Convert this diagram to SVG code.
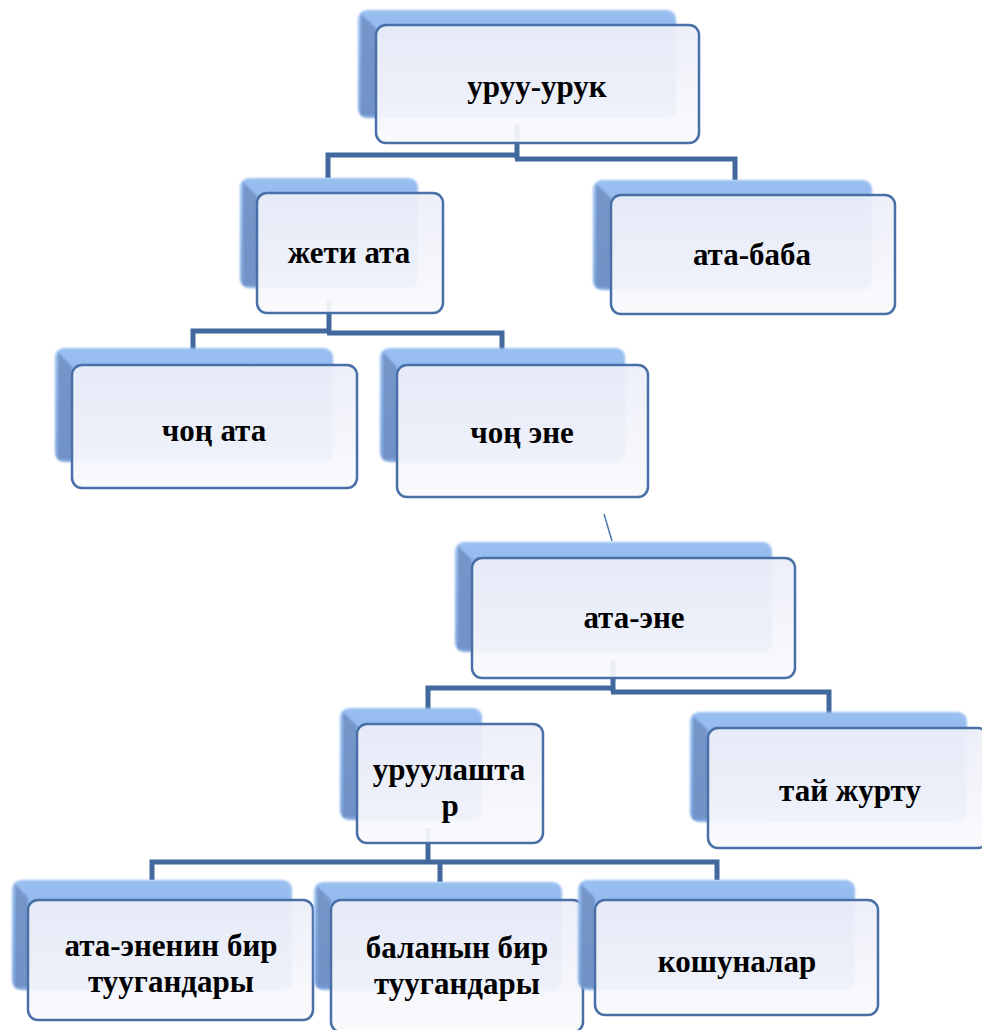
<svg xmlns="http://www.w3.org/2000/svg" width="982" height="1030" viewBox="0 0 982 1030">
<defs>
<linearGradient id="backV" x1="0" y1="0" x2="0" y2="1">
<stop offset="0" stop-color="#9ac0f2"/>
<stop offset="1" stop-color="#7fa6de"/>
</linearGradient>
<linearGradient id="frontG" x1="0" y1="0" x2="0" y2="1">
<stop offset="0" stop-color="#eceef8"/>
<stop offset="1" stop-color="#fafafd"/>
</linearGradient>
<filter id="soft" x="-5%" y="-5%" width="110%" height="110%">
<feGaussianBlur stdDeviation="1.2"/>
</filter>
</defs>
<style>
.back{fill:url(#backV);filter:url(#soft)}
.bevel{fill:#6f8fc3;opacity:0.85;filter:url(#soft)}
.front{fill:url(#frontG);fill-opacity:0.93;stroke:#4870a6;stroke-width:2.5}
.conn{fill:none;stroke:#42699d;stroke-width:5;stroke-linejoin:miter}
.thin{fill:none;stroke:#4a78b0;stroke-width:1.5}
.t{font-weight:bold;font-size:31px;fill:#000;text-anchor:middle}
</style>
<rect width="982" height="1030" fill="#ffffff"/>

<g id="connectors">
<path class="conn" d="M517,125 V159 M328,178 V155 H519 M515,159 H735 V180"/>
<path class="conn" d="M329,300 V333 M193,350 V331 H331 M327,333 H502 V350"/>
<path class="conn" d="M613,660 V692 M428,710 V688 H615 M611,692 H829 V714"/>
<path class="conn" d="M428,828 V864 M152,880 V862 H717 V880 M440,862 V882"/>
<path class="thin" d="M604,514 L612,541"/>
</g>

<g font-family="Times New Roman, Liberation Serif, Tinos, DejaVu Serif, serif">
<g id="node-uruu-uruk">
<rect class="back" x="358" y="10" width="318" height="108" rx="9"/>
<path class="bevel" d="M361,14 L376,28 L376,115 L361,115 Z"/>
<rect class="front" x="376" y="25" width="323" height="118" rx="10"/>
<text class="t" x="537" y="97">уруу-урук</text>
</g>

<g id="node-zheti-ata">
<rect class="back" x="240" y="178" width="178" height="110" rx="9"/>
<path class="bevel" d="M243,182 L257,196 L257,285 L243,285 Z"/>
<rect class="front" x="257" y="193" width="186" height="120" rx="10"/>
<text class="t" x="349" y="263">жети ата</text>
</g>

<g id="node-ata-baba">
<rect class="back" x="593" y="180" width="279" height="110" rx="9"/>
<path class="bevel" d="M596,184 L611,198 L611,287 L596,287 Z"/>
<rect class="front" x="611" y="195" width="284" height="119" rx="10"/>
<text class="t" x="752" y="265">ата-баба</text>
</g>

<g id="node-chong-ata">
<rect class="back" x="55" y="348" width="278" height="114" rx="9"/>
<path class="bevel" d="M58,352 L72,367 L72,459 L58,459 Z"/>
<rect class="front" x="72" y="365" width="285" height="123" rx="10"/>
<text class="t" x="214" y="441">чоң ата</text>
</g>

<g id="node-chong-ene">
<rect class="back" x="380" y="348" width="245" height="114" rx="9"/>
<path class="bevel" d="M383,352 L397,367 L397,459 L383,459 Z"/>
<rect class="front" x="397" y="365" width="251" height="132" rx="10"/>
<text class="t" x="522" y="443">чоң эне</text>
</g>

<g id="node-ata-ene">
<rect class="back" x="455" y="542" width="317" height="110" rx="9"/>
<path class="bevel" d="M458,546 L472,560 L472,649 L458,649 Z"/>
<rect class="front" x="472" y="558" width="323" height="120" rx="10"/>
<text class="t" x="634" y="628">ата-эне</text>
</g>

<g id="node-uruulashtar">
<rect class="back" x="340" y="708" width="142" height="112" rx="9"/>
<path class="bevel" d="M343,712 L357,726 L357,817 L343,817 Z"/>
<rect class="front" x="357" y="724" width="186" height="119" rx="10"/>
<text class="t" x="449" y="780">уруулашта</text>
<text class="t" x="450" y="816">р</text>
</g>

<g id="node-tai-zhurtu">
<rect class="back" x="690" y="712" width="277" height="110" rx="9"/>
<path class="bevel" d="M693,716 L708,730 L708,819 L693,819 Z"/>
<rect class="front" x="708" y="728" width="280" height="120" rx="10"/>
<text class="t" x="850" y="801">тай журту</text>
</g>

<g id="node-ata-enenin">
<rect class="back" x="12" y="880" width="280" height="110" rx="9"/>
<path class="bevel" d="M15,884 L28,898 L28,987 L15,987 Z"/>
<rect class="front" x="28" y="900" width="285" height="120" rx="10"/>
<text class="t" x="171" y="956">ата-эненин бир</text>
<text class="t" x="171" y="992">туугандары</text>
</g>

<g id="node-balanyn">
<rect class="back" x="314" y="882" width="248" height="108" rx="9"/>
<path class="bevel" d="M317,886 L331,900 L331,987 L317,987 Z"/>
<rect class="front" x="331" y="900" width="252" height="132" rx="10"/>
<text class="t" x="457" y="958">баланын бир</text>
<text class="t" x="457" y="994">туугандары</text>
</g>

<g id="node-koshunalar">
<rect class="back" x="578" y="880" width="277" height="110" rx="9"/>
<path class="bevel" d="M581,884 L595,898 L595,987 L581,987 Z"/>
<rect class="front" x="595" y="900" width="283" height="115" rx="10"/>
<text class="t" x="737" y="972">кошуналар</text>
</g>
</g>
</svg>
